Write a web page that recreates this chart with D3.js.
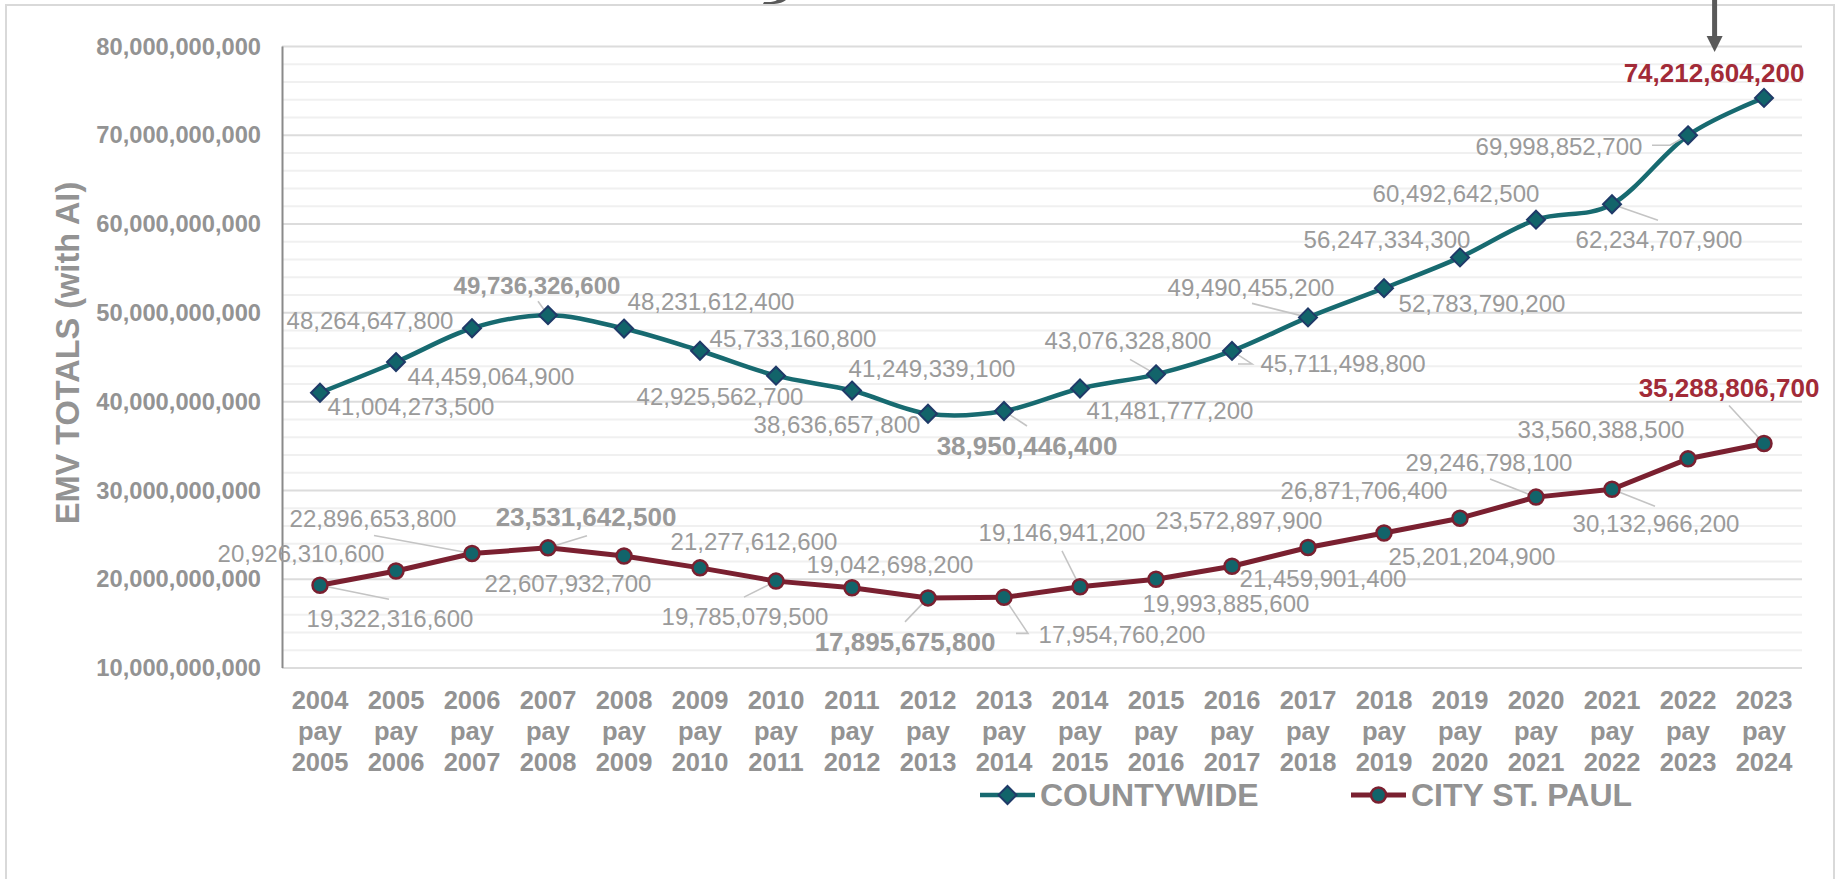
<!DOCTYPE html>
<html>
<head>
<meta charset="utf-8">
<script src="https://cdn.jsdelivr.net/npm/d3@7/dist/d3.min.js"></script>
<style>
  html, body { margin: 0; padding: 0; background: #ffffff; }
  svg { display: block; }
  text { font-family: Arial, "Liberation Sans", Helvetica, sans-serif; }
</style>
</head>
<body>
<svg id="chart" width="1839" height="879"></svg>
<script>
// ---------------- DATA ----------------
const categories = [
  "2004 pay 2005","2005 pay 2006","2006 pay 2007","2007 pay 2008","2008 pay 2009",
  "2009 pay 2010","2010 pay 2011","2011 pay 2012","2012 pay 2013","2013 pay 2014",
  "2014 pay 2015","2015 pay 2016","2016 pay 2017","2017 pay 2018","2018 pay 2019",
  "2019 pay 2020","2020 pay 2021","2021 pay 2022","2022 pay 2023","2023 pay 2024"
];
const countywide = [
  41004273500, 44459064900, 48264647800, 49736326600, 48231612400,
  45733160800, 42925562700, 41249339100, 38636657800, 38950446400,
  41481777200, 43076328800, 45711498800, 49490455200, 52783790200,
  56247334300, 60492642500, 62234707900, 69998852700, 74212604200
];
const citySaintPaul = [
  19322316600, 20926310600, 22896653800, 23531642500, 22607932700,
  21277612600, 19785079500, 19042698200, 17895675800, 17954760200,
  19146941200, 19993885600, 21459901400, 23572897900, 25201204900,
  26871706400, 29246798100, 30132966200, 33560388500, 35288806700
];
const yTicks = [10e9, 20e9, 30e9, 40e9, 50e9, 60e9, 70e9, 80e9];
const seriesNames = ["COUNTYWIDE", "CITY ST. PAUL"];
const yTitle = "EMV TOTALS (with AI)";

// label emphasis: "n" normal, "s" bold small, "b" bold gray, "r" bold red
const cwEmph   = ["n","n","n","s","n","n","n","n","n","b","n","n","n","n","n","n","n","n","n","r"];
const cityEmph = ["n","n","n","b","n","n","n","n","b","n","n","n","n","n","n","n","n","n","n","r"];

// ---------------- LABEL LAYOUT (offsets from each point) ----------------
const cwLabelOff = [
  [91,14],[95,15],[-102,-8],[-11,-30],[87,-27],[93,-12],[-56,21],[80,-22],[-91,11],[23,35],
  [90,22],[-28,-34],[111,13],[-57,-30],[98,15],[-73,-18],[-80,-26],[47,35],[-129,11],[-50,-25]
];
const cwLeader = [
  null,null,null,[[-10,-14]],null,null,null,null,null,[[23,15]],
  null,[[-26,-15]],[[6,13],[20,13]],[[-56,-14]],null,null,null,[[46,16]],[[-36,10],[-18,10]],null
];
const cityLabelOff = [
  [70,33],[-95,-17],[-99,-35],[38,-31],[-56,28],[54,-26],[-31,35],[38,-23],[-23,44],[118,37],
  [-18,-54],[70,24],[91,12],[-69,-27],[88,24],[-96,-28],[-47,-35],[44,34],[-87,-29],[-35,-56]
];
const cityLeader = [
  [[69,14]],null,[[-98,-18]],[[39,-12]],null,null,[[-32,16]],null,[[-23,24]],[[12,36],[24,36]],
  [[-18,-36]],null,null,null,null,null,[[-46,-18]],[[43,17]],null,[[-35,-38]]
];

// ---------------- DRAW ----------------
const svg = d3.select("#chart");
const plot = { left: 282, right: 1802, top: 46.5, bottom: 668 };

const C = {
  teal: "#176a70", tealFill: "#12646a", navy: "#1f3a68",
  maroon: "#7a2030", grid: "#dcdcdc", gridMinor: "#f0f0f0",
  axis: "#8a8a8a", text: "#9a9a9a", tick: "#939393", red: "#a22b38",
  leader: "#c4c4c4", frame: "#d9d9d9", dark: "#595959"
};

// frame
svg.append("rect").attr("x", 6).attr("y", 5).attr("width", 1828).attr("height", 900)
  .attr("fill", "#fff").attr("stroke", C.frame).attr("stroke-width", 2);

// clipped fragment of a title glyph at the very top (shape only)
svg.append("path")
  .attr("d", "M763,4 L774,4 Q782,3.5 786,0 L777,0 Q774,2 768,2 L764,2 Z")
  .attr("fill", C.dark);

const x = d3.scaleBand().domain(categories).range([plot.left, plot.right]).paddingInner(0).paddingOuter(0);
const xc = d => x(d) + x.bandwidth() / 2;
const y = d3.scaleLinear().domain([10e9, 80e9]).range([plot.bottom, plot.top]);

// gridlines
const minor = d3.range(12e9, 80e9, 2e9).filter(v => Math.round(v / 1e9) % 10 !== 0);
svg.append("g").selectAll("line").data(minor).join("line")
  .attr("x1", plot.left).attr("x2", plot.right)
  .attr("y1", d => y(d)).attr("y2", d => y(d))
  .attr("stroke", C.gridMinor).attr("stroke-width", 2);
svg.append("g").selectAll("line").data(yTicks).join("line")
  .attr("x1", plot.left).attr("x2", plot.right)
  .attr("y1", d => y(d)).attr("y2", d => y(d))
  .attr("stroke", C.grid).attr("stroke-width", 2);

// y axis
const yAxis = d3.axisLeft(y).tickValues(yTicks).tickSize(0).tickPadding(21)
  .tickFormat(d3.format(",.0f"));
const gy = svg.append("g").attr("transform", `translate(${plot.left},0)`).call(yAxis);
gy.select(".domain").remove();
gy.selectAll("text").attr("font-size", 23.7).attr("font-weight", "bold").attr("fill", C.tick)
  .attr("font-family", "Arial, 'Liberation Sans', sans-serif");
svg.append("line").attr("x1", plot.left + 0.5).attr("x2", plot.left + 0.5)
  .attr("y1", plot.top).attr("y2", plot.bottom).attr("stroke", C.axis).attr("stroke-width", 2);

// y title
svg.append("text").attr("transform", `translate(79,353) rotate(-90)`)
  .attr("text-anchor", "middle").attr("font-size", 32.5).attr("font-weight", "bold")
  .attr("fill", C.tick).text(yTitle);

// x axis labels (3 lines)
const xAxis = d3.axisBottom(x).tickSize(0).tickFormat("");
const gx = svg.append("g").attr("transform", `translate(0,${plot.bottom})`).call(xAxis);
gx.select(".domain").remove();
gx.selectAll(".tick").each(function(d) {
  const parts = d.split(" ");
  const t = d3.select(this).select("text")
    .attr("y", 0).attr("dy", null)
    .attr("font-size", 25.5).attr("font-weight", "bold").attr("fill", C.tick)
    .attr("text-anchor", "middle")
    .attr("font-family", "Arial, 'Liberation Sans', sans-serif");
  t.selectAll("tspan").data(parts).join("tspan")
    .attr("x", 0).attr("y", (p, i) => 41 + i * 31).text(p => p);
});

// lines
const cwPts = countywide.map((v, i) => [xc(categories[i]), y(v)]);
const cityPts = citySaintPaul.map((v, i) => [xc(categories[i]), y(v)]);

svg.append("path").attr("d", d3.line().curve(d3.curveCardinal.tension(0))(cwPts))
  .attr("fill", "none").attr("stroke", C.teal).attr("stroke-width", 4.5).attr("stroke-linejoin", "round");
svg.append("path").attr("d", d3.line()(cityPts))
  .attr("fill", "none").attr("stroke", C.maroon).attr("stroke-width", 5).attr("stroke-linejoin", "round");

// leaders
function drawLeaders(pts, leaders) {
  pts.forEach((p, i) => {
    const L = leaders[i];
    if (!L) return;
    const poly = L.map(o => [p[0] + o[0], p[1] + o[1]]).concat([[p[0], p[1]]]);
    svg.append("path").attr("d", d3.line()(poly))
      .attr("fill", "none").attr("stroke", C.leader).attr("stroke-width", 1.6);
  });
}
drawLeaders(cwPts, cwLeader);
drawLeaders(cityPts, cityLeader);

// markers
const diamond = (cx, cy, r) => `M${cx},${cy - r}L${cx + r},${cy}L${cx},${cy + r}L${cx - r},${cy}Z`;
svg.append("g").selectAll("path").data(cwPts).join("path")
  .attr("d", d => diamond(d[0], d[1], 9))
  .attr("fill", C.tealFill).attr("stroke", C.navy).attr("stroke-width", 2);
svg.append("g").selectAll("circle").data(cityPts).join("circle")
  .attr("cx", d => d[0]).attr("cy", d => d[1]).attr("r", 7.5)
  .attr("fill", C.tealFill).attr("stroke", C.maroon).attr("stroke-width", 2.5);

// data labels
const fmt = d3.format(",.0f");
const sizeOf = e => (e === "n" || e === "s") ? 24 : 26;
function drawLabels(vals, pts, offs, emph) {
  svg.append("g").selectAll("text").data(vals).join("text")
    .attr("x", (d, i) => pts[i][0] + offs[i][0])
    .attr("y", (d, i) => pts[i][1] + offs[i][1])
    .attr("dy", "0.35em")
    .attr("text-anchor", "middle")
    .attr("font-size", (d, i) => sizeOf(emph[i]))
    .attr("font-weight", (d, i) => emph[i] === "n" ? "normal" : "bold")
    .attr("fill", (d, i) => emph[i] === "r" ? C.red : C.text)
    .text(d => fmt(d));
}
drawLabels(countywide, cwPts, cwLabelOff, cwEmph);
drawLabels(citySaintPaul, cityPts, cityLabelOff, cityEmph);

// annotation arrow at top
const ax = xc(categories[18]) + 0.35 * x.bandwidth();
svg.append("line").attr("x1", ax).attr("x2", ax).attr("y1", 0).attr("y2", 38)
  .attr("stroke", C.dark).attr("stroke-width", 5);
svg.append("path").attr("d", `M${ax - 8},36L${ax + 8},36L${ax},52Z`).attr("fill", C.dark);

// legend
const lg = svg.append("g");
const legY = 795;
lg.append("line").attr("x1", 980).attr("x2", 1035).attr("y1", legY).attr("y2", legY)
  .attr("stroke", C.teal).attr("stroke-width", 4.5);
lg.append("path").attr("d", diamond(1007.5, legY, 9))
  .attr("fill", C.tealFill).attr("stroke", C.navy).attr("stroke-width", 2);
lg.append("text").attr("x", 1040).attr("y", legY + 10.5).attr("font-size", 32)
  .attr("font-weight", "bold").attr("fill", C.tick).text(seriesNames[0]);
lg.append("line").attr("x1", 1351).attr("x2", 1406).attr("y1", legY).attr("y2", legY)
  .attr("stroke", C.maroon).attr("stroke-width", 5);
lg.append("circle").attr("cx", 1378.5).attr("cy", legY).attr("r", 7.5)
  .attr("fill", C.tealFill).attr("stroke", C.maroon).attr("stroke-width", 2.5);
lg.append("text").attr("x", 1411).attr("y", legY + 10.5).attr("font-size", 32)
  .attr("font-weight", "bold").attr("fill", C.tick).text(seriesNames[1]);
</script>
</body>
</html>
